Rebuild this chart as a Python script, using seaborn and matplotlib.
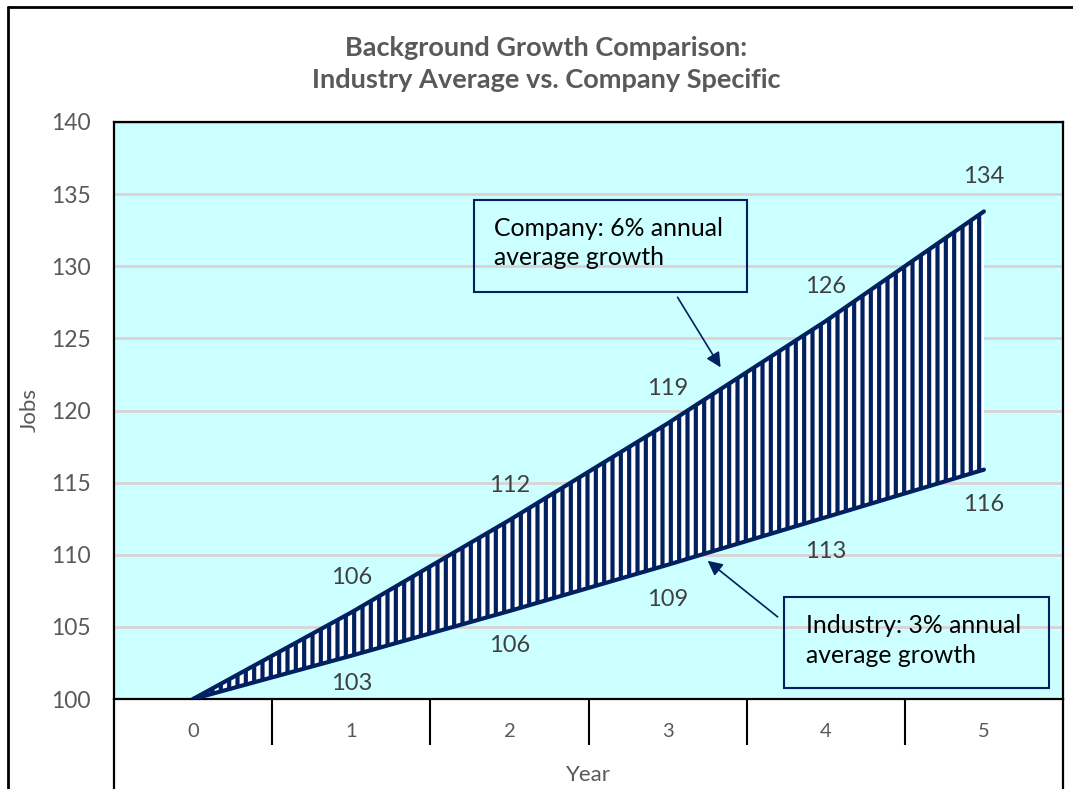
import numpy as np
import pandas as pd
import matplotlib
matplotlib.use('Agg')
import matplotlib.pyplot as plt
from matplotlib.lines import Line2D
from matplotlib.patches import Rectangle
import seaborn as sns

# Chart data
years = [0, 1, 2, 3, 4, 5]
company_jobs = [100, 106, 112.4, 119.1, 126.2, 133.8]
industry_jobs = [100, 103, 106.1, 109.3, 112.6, 115.9]
company_labels = ['', '106', '112', '119', '126', '134']
industry_labels = ['', '103', '106', '109', '113', '116']
y_ticks = [100, 105, 110, 115, 120, 125, 130, 135, 140]

navy = '#002060'
label_grey = '#404040'

df = pd.DataFrame({'Year': years, 'Company': company_jobs, 'Industry': industry_jobs})

sns.set_theme(style='white')
plt.rcParams['font.family'] = ['Lato', 'DejaVu Sans']
plt.rcParams['hatch.linewidth'] = 3.0

fig = plt.figure(figsize=(10.73, 7.89), dpi=100)
ax = fig.add_axes([114 / 1073, 1 - 699 / 789, 949 / 1073, 577 / 789])
ax.set_facecolor('#CCFFFF')

# Hatched band between the two series
ax.fill_between(df['Year'], df['Industry'], df['Company'], facecolor='white',
                edgecolor=navy, hatch='||', linewidth=0, zorder=2)
sns.lineplot(data=df, x='Year', y='Company', color=navy, linewidth=3, ax=ax, zorder=3)
sns.lineplot(data=df, x='Year', y='Industry', color=navy, linewidth=3, ax=ax, zorder=3)

# Data labels
for x, y, txt in zip(df['Year'], df['Company'], company_labels):
    ax.annotate(txt, (x, y), xytext=(0, 25), textcoords='offset points',
                ha='center', va='center', fontsize=17, color=label_grey)
for x, y, txt in zip(df['Year'], df['Industry'], industry_labels):
    off = -20 if x == 1 else -25
    ax.annotate(txt, (x, y), xytext=(0, off), textcoords='offset points',
                ha='center', va='center', fontsize=17, color=label_grey)

# Axes styling
ax.set_xlim(-0.5, 5.5)
ax.set_ylim(100, 140)
ax.set_yticks(y_ticks)
ax.set_xticks(years)
ax.set_xticks([0.5, 1.5, 2.5, 3.5, 4.5], minor=True)
ax.grid(axis='y', color='#DCD2D3', linewidth=2, zorder=0)
ax.set_axisbelow(True)
ax.tick_params(axis='y', which='major', length=0, pad=17, labelsize=16.5, labelcolor='#595959')
ax.tick_params(axis='x', which='major', length=0, pad=17, labelsize=14.5, labelcolor='#595959')
ax.tick_params(axis='x', which='minor', bottom=True, length=33, width=1.5, color='black', direction='out')
for s in ax.spines.values():
    s.set_visible(True)
    s.set_color('black')
    s.set_linewidth(1.6)

ax.set_xlabel('Year', fontsize=16, color='#595959')
ax.set_ylabel('Jobs', fontsize=16, color='#595959')
ax.xaxis.set_label_coords(0.5, (699 - 775) / 577)
ax.yaxis.set_label_coords((30 - 114) / 949, 0.5)
ax.xaxis.label.set_va('center')
ax.yaxis.label.set_va('center')

# Side lines continuing below the plot area
for xa in (0, 1):
    ax.add_line(Line2D([xa, xa], [0, -0.3], transform=ax.transAxes, color='black',
                       linewidth=1.6, clip_on=False))

# Callout boxes
ax.add_patch(Rectangle((1.778, 128.19), 3.5 - 1.778, 134.58 - 128.19, facecolor='none',
                       edgecolor=navy, linewidth=1.5, zorder=4))
ax.text(1.905, 131.6, 'Company: 6% annual\naverage growth', fontsize=17.8, color='black',
        va='center', ha='left', linespacing=1.35, zorder=5)
ax.add_patch(Rectangle((3.734, 100.76), 5.411 - 3.734, 107.08 - 100.76, facecolor='none',
                       edgecolor=navy, linewidth=1.5, zorder=4))
ax.text(3.873, 104.06, 'Industry: 3% annual\naverage growth', fontsize=17.8, color='black',
        va='center', ha='left', linespacing=1.35, zorder=5)

arrow = dict(arrowstyle='-|>', color=navy, lw=1.2, mutation_scale=22, shrinkA=0, shrinkB=0)
ax.annotate('', xy=(3.335, 122.99), xytext=(3.063, 127.85), arrowprops=arrow, zorder=5)
ax.annotate('', xy=(3.253, 109.58), xytext=(3.696, 105.69), arrowprops=arrow, zorder=5)

# Title
fig.text(546 / 1073, 1 - 63.5 / 789,
         'Background Growth Comparison:\nIndustry Average vs. Company Specific',
         ha='center', va='center', fontsize=19.5, fontweight='bold', color='#595959',
         linespacing=1.4)

# Outer chart border
fig.add_artist(Line2D([8 / 1073, 8 / 1073], [0, 1 - 7 / 789], color='black', linewidth=2))
fig.add_artist(Line2D([8 / 1073, 1], [1 - 7 / 789, 1 - 7 / 789], color='black', linewidth=2))

fig.savefig('out.png', dpi=100)
